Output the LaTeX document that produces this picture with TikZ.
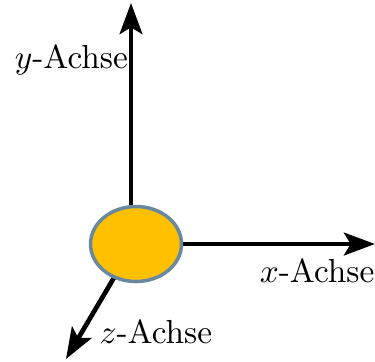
\documentclass[tikz,border=0pt]{standalone}
\usetikzlibrary{arrows.meta,shapes.geometric}
\definecolor{ballfill}{HTML}{FFC000}
\definecolor{balledge}{HTML}{6A87A0}
\begin{document}
\begin{tikzpicture}[x=0.3pt,y=-0.3pt,
  axis/.style={line width=1.4pt,-{Stealth[length=9.3pt,width=6.8pt,inset=2pt]}},
  lbl/.style={inner sep=0pt,font=\fontsize{10}{12}\selectfont}]
\useasboundingbox (0,0) rectangle (375,361);
\coordinate (ys) at (131,210);
\coordinate (ye) at (131,3);
\coordinate (xs) at (178,244);
\coordinate (xe) at (375,244);
\coordinate (zs) at (115,276);
\coordinate (ze) at (66,359);
\draw[axis] (ys) -- (ye);
\draw[axis] (xs) -- (xe);
\draw[axis] (zs) -- (ze);
\node[ellipse,draw=balledge,fill=ballfill,line width=1.05pt,inner sep=0pt,
  minimum width=27.3pt,minimum height=22.5pt] (o) at (136,244) {};
\node[lbl,anchor=base east] (yl) at (128.5,68) {$y$-Achse};
\node[lbl,anchor=base east] (xl) at (375,282) {$x$-Achse};
\node[lbl,anchor=base west] (zl) at (99,343) {$z$-Achse};
\end{tikzpicture}
\end{document}
